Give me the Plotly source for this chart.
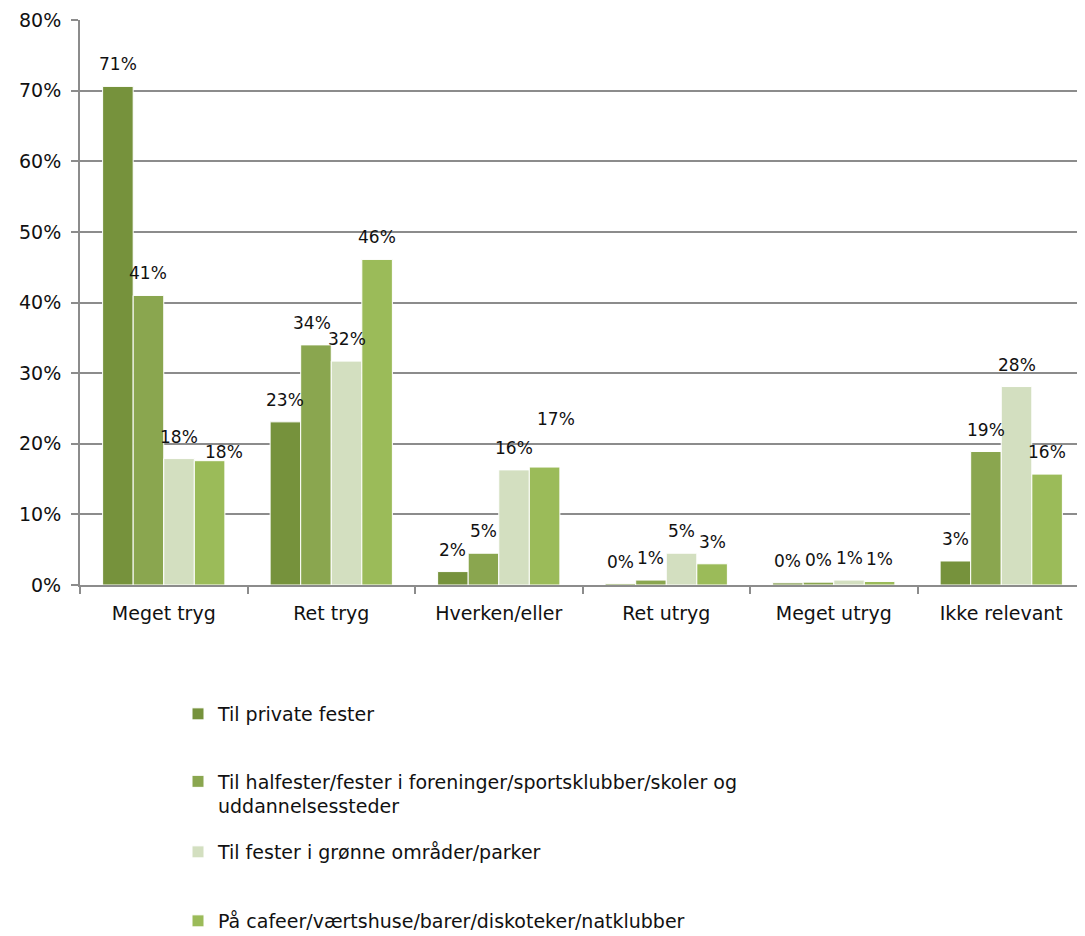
import math
import plotly.graph_objects as go

categories = ["Meget tryg", "Ret tryg", "Hverken/eller", "Ret utryg", "Meget utryg", "Ikke relevant"]
series_names = [
    "Til private fester",
    "Til halfester/fester i foreninger/sportsklubber/skoler og<br>uddannelsessteder",
    "Til fester i grønne områder/parker",
    "På cafeer/værtshuse/barer/diskoteker/natklubber",
]
private_fester = [70.6, 23.1, 1.9, 0.2, 0.3, 3.4]
halfester = [41.0, 34.0, 4.5, 0.7, 0.4, 18.9]
groenne_omraader = [17.9, 31.7, 16.3, 4.5, 0.7, 28.1]
cafeer = [17.6, 46.1, 16.7, 3.0, 0.5, 15.7]
y_ticks = [0, 10, 20, 30, 40, 50, 60, 70, 80]
y_tick_labels = ["0%", "10%", "20%", "30%", "40%", "50%", "60%", "70%", "80%"]

series_values = [private_fester, halfester, groenne_omraader, cafeer]
colors = ["#76923C", "#8AA64F", "#D3DFC0", "#9BBB59"]

FONT = "DejaVu Sans"
BODY = 8  # default page margin around the plot div
W, H = 1085 - BODY, 936 - BODY
# plot area in page pixels: x 80..1085, y 20..585
ML, MR, MT = 80 - BODY, 0, 20 - BODY
MB = H - (585 - BODY)
plot_h = H - MT - MB
plot_w = W - ML - MR

bargap = 0.27
n_series = len(series_values)
bar_w = (1 - bargap) / n_series

fig = go.Figure()
legend_ids = ["legend", "legend2", "legend3", "legend4"]
for s, (name, vals, col) in enumerate(zip(series_names, series_values, colors)):
    fig.add_trace(go.Bar(
        x=categories, y=vals, name=name,
        marker=dict(color=col, line=dict(color="white", width=1)),
        legend=legend_ids[s],
        hovertemplate="%{x}: %{y:.1f}%<extra></extra>",
    ))

# data labels
label_nudge = {(0, 3): (14, -13), (2, 3): (11, 26), (1, 1): (-4, 0)}
annotations = []
for s, vals in enumerate(series_values):
    for c, v in enumerate(vals):
        dx, dy = label_nudge.get((c, s), (0, 0))
        annotations.append(dict(
            x=c + (s - (n_series - 1) / 2) * bar_w, y=v, xref="x", yref="y",
            text=f"{int(math.floor(v + 0.5))}%", showarrow=False,
            xanchor="center", yanchor="middle",
            xshift=dx, yshift=22 + dy,
            font=dict(family=FONT, size=17, color="#111111"),
        ))

def py(page_px):
    return (585 - page_px) / plot_h

def px_x(page_px):
    return (page_px - 80) / plot_w

legend_centers = [714, 794, 852, 921]
legend_layout = {}
for i, lid in enumerate(legend_ids):
    legend_layout[lid] = dict(
        x=px_x(178), xanchor="left", y=py(legend_centers[i]), yanchor="middle",
        font=dict(family=FONT, size=19, color="#111111"),
        bgcolor="rgba(0,0,0,0)", valign="top", itemclick=False, itemdoubleclick=False,
    )

fig.update_layout(
    width=W, height=H,
    margin=dict(l=ML, r=MR, t=MT, b=MB, pad=0, autoexpand=False),
    paper_bgcolor="white", plot_bgcolor="white",
    barmode="group", bargap=bargap, bargroupgap=0,
    font=dict(family=FONT, size=19, color="#111111"),
    annotations=annotations,
    showlegend=True,
    **legend_layout,
)
fig.update_xaxes(
    type="category", showline=True, linecolor="#8c8c8c", linewidth=2,
    ticks="outside", tickson="boundaries", ticklen=7, tickcolor="#8c8c8c", tickwidth=2,
    tickfont=dict(family=FONT, size=19, color="#111111"), showgrid=False,
    ticklabelstandoff=10, automargin=False,
)
fig.update_yaxes(
    range=[0, 80], tickvals=y_ticks, ticktext=y_tick_labels,
    showline=True, linecolor="#8c8c8c", linewidth=2,
    ticks="outside", ticklen=7, tickcolor="#8c8c8c", tickwidth=2,
    showgrid=True, gridcolor="#8c8c8c", gridwidth=2, zeroline=False,
    tickfont=dict(family=FONT, size=19, color="#111111"),
    ticklabelstandoff=6, automargin=False,
)

fig.write_html("out.html")
